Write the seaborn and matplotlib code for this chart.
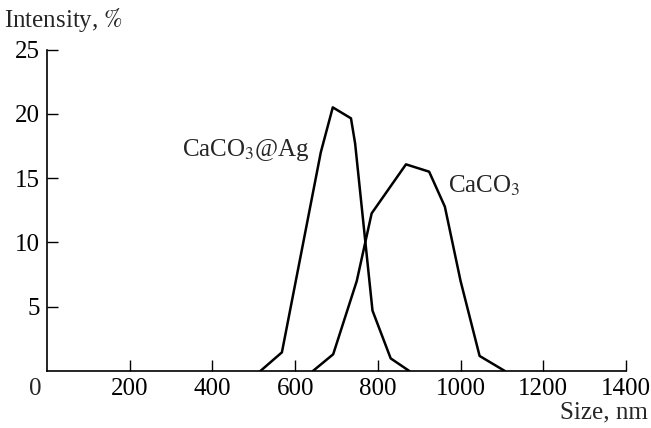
import pandas as pd
import matplotlib
matplotlib.use("Agg")
import matplotlib.pyplot as plt
import seaborn as sns

# ==================================================
# Data
# ==================================================
ag_size = [516, 568, 607, 662, 691, 735, 745, 787, 831, 876]
ag_intensity = [0, 1.45, 7.9, 17.0, 20.5, 19.65, 17.7, 4.7, 0.98, 0]

caco3_size = [643, 692, 749, 785, 868, 924, 962, 1000, 1046, 1107]
caco3_intensity = [0, 1.3, 7.0, 12.26, 16.07, 15.5, 12.78, 7.0, 1.17, 0]

x_ticks = [200, 400, 600, 800, 1000, 1200, 1400]
y_ticks = [5, 10, 15, 20, 25]

df = pd.concat([
    pd.DataFrame({"size": ag_size, "intensity": ag_intensity, "sample": "ag"}),
    pd.DataFrame({"size": caco3_size, "intensity": caco3_intensity, "sample": "caco3"}),
])

# ==================================================
# Style
# ==================================================
sns.set_style("ticks")
plt.rcParams["font.family"] = ["Liberation Serif", "DejaVu Serif"]
plt.rcParams["mathtext.fontset"] = "stix"
plt.rcParams["font.size"] = 18

fig = plt.figure(figsize=(6.51, 4.28), dpi=100)
ax = fig.add_axes([0.0722, 0.1332, 0.8894, 0.7511])

sns.lineplot(data=df, x="size", y="intensity", units="sample", estimator=None,
             color="black", linewidth=1.8, sort=False, ax=ax)

ax.set_xlim(0, 1400)
ax.set_ylim(0, 25)
ax.set_xticks(x_ticks)
ax.set_yticks(y_ticks)
ax.set_xlabel("")
ax.set_ylabel("")
ax.tick_params(direction="in", length=8, width=1, colors="black",
               labelsize=18, pad=5)
sns.despine(ax=ax)
for s in ["left", "bottom"]:
    ax.spines[s].set_color("black")
    ax.spines[s].set_linewidth(1.2)

# corner zero
ax.annotate("0", xy=(0, 0), xycoords="axes fraction", xytext=(-8.5, -5),
            textcoords="offset points", ha="center", va="top", fontsize=18)

# axis titles
fig.text(0.006, 0.985, "Intensity, $\\%$", ha="left", va="top", fontsize=18)
fig.text(0.995, 0.01, "Size, nm", ha="right", va="bottom", fontsize=18)

# curve labels
ax.text(636, 17.2, "CaCO$_3$@Ag", ha="right", va="center", fontsize=18)
ax.text(970, 14.4, "CaCO$_3$", ha="left", va="center", fontsize=18)

fig.savefig("out.png", dpi=100)
